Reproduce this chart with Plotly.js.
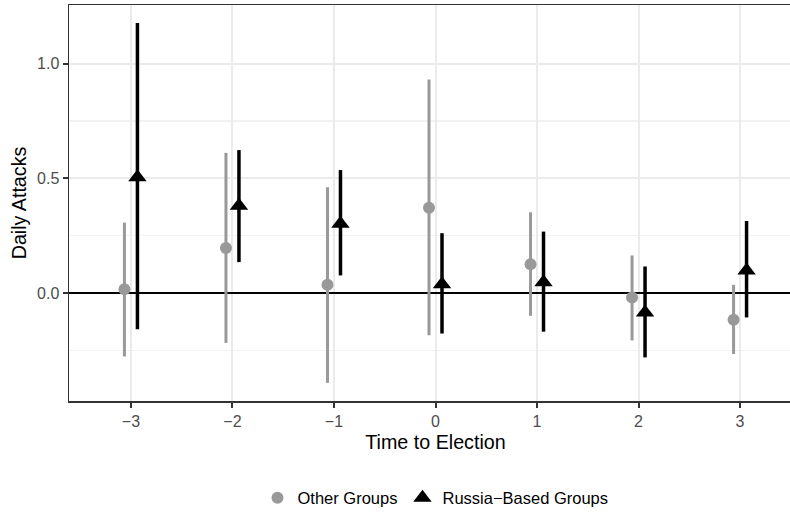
<!DOCTYPE html>
<html>
<head>
<meta charset="utf-8">
<script src="https://cdn.plot.ly/plotly-3.0.1.min.js"></script>
<style>
html, body { margin: 0; padding: 0; overflow: hidden; background: #fff; }
#chart { width: 806px; height: 514px; }
</style>
</head>
<body>
<div id="chart"></div>
<script>
// Data
const timeToElection = [-3, -2, -1, 0, 1, 2, 3];
const otherEst  = [0.017, 0.196, 0.036, 0.372, 0.126, -0.019, -0.116];
const otherLow  = [-0.276, -0.217, -0.391, -0.184, -0.099, -0.206, -0.265];
const otherHigh = [0.307, 0.611, 0.461, 0.930, 0.352, 0.164, 0.036];
const russiaEst  = [0.505, 0.380, 0.302, 0.039, 0.047, -0.085, 0.099];
const russiaLow  = [-0.157, 0.135, 0.077, -0.176, -0.168, -0.280, -0.106];
const russiaHigh = [1.177, 0.623, 0.536, 0.261, 0.268, 0.116, 0.314];
const xTicks = [-3, -2, -1, 0, 1, 2, 3];
const seriesNames = ["Other Groups", "Russia\u2212Based Groups"];

// position dodge
const dodge = 0.064;
const font = "Liberation Sans, Arial, Helvetica, sans-serif";

function trace(est, lo, hi, offset, name, color, symbol, size, thick) {
  return {
    type: "scatter",
    mode: "markers",
    name: name,
    x: timeToElection.map(v => v + offset),
    y: est,
    marker: { color: color, symbol: symbol, size: size, line: { width: 0 } },
    error_y: {
      type: "data",
      symmetric: false,
      array: hi.map((h, i) => h - est[i]),
      arrayminus: lo.map((l, i) => est[i] - l),
      color: color,
      thickness: thick,
      width: 0
    },
    hoverinfo: "x+y"
  };
}

const data = [
  trace(otherEst, otherLow, otherHigh, -dodge, seriesNames[0], "#999999", "circle", 12, 3),
  trace(russiaEst, russiaLow, russiaHigh, dodge, seriesNames[1], "#000000", "triangle-up", 16, 3.5)
];

const layout = {
  width: 806,
  height: 514,
  margin: { l: 68.5, r: 3.5, t: 5, b: 112.5, autoexpand: false },
  paper_bgcolor: "#ffffff",
  plot_bgcolor: "#ffffff",
  font: { family: font, color: "#000000" },
  showlegend: true,
  legend: {
    orientation: "h",
    x: 0.5, xanchor: "center",
    y: -0.245, yanchor: "middle",
    font: { family: font, size: 16.5, color: "#000000" },
    bgcolor: "rgba(0,0,0,0)",
    itemsizing: "trace"
  },
  xaxis: {
    range: [-3.61, 3.61],
    tickvals: xTicks,
    ticks: "outside", ticklen: 5, tickwidth: 2, tickcolor: "#333333",
    tickfont: { family: font, size: 16, color: "#4D4D4D" },
    showgrid: true, gridcolor: "#EBEBEB", gridwidth: 2,
    zeroline: false,
    showline: true, mirror: true, linecolor: "#333333", linewidth: 1.5,
    title: { text: "Time to Election", font: { family: font, size: 19.7, color: "#000000" }, standoff: 6 },
    automargin: false
  },
  yaxis: {
    range: [-0.47, 1.255],
    tickvals: [0, 0.5, 1],
    ticktext: ["0.0", "0.5", "1.0"],
    ticks: "outside", ticklen: 5, tickwidth: 2, tickcolor: "#333333",
    tickfont: { family: font, size: 16, color: "#4D4D4D" },
    showgrid: true, gridcolor: "#EBEBEB", gridwidth: 2,
    minor: { tickvals: [-0.25, 0.25, 0.75], showgrid: true, gridcolor: "#F2F2F2", gridwidth: 1.2, ticks: "" },
    zeroline: true, zerolinecolor: "#000000", zerolinewidth: 2,
    showline: true, mirror: true, linecolor: "#333333", linewidth: 1.5,
    title: { text: "Daily Attacks", font: { family: font, size: 19.7, color: "#000000" }, standoff: 5 },
    automargin: false
  }
};

Plotly.newPlot("chart", data, layout, { displayModeBar: false, staticPlot: true });
</script>
</body>
</html>
